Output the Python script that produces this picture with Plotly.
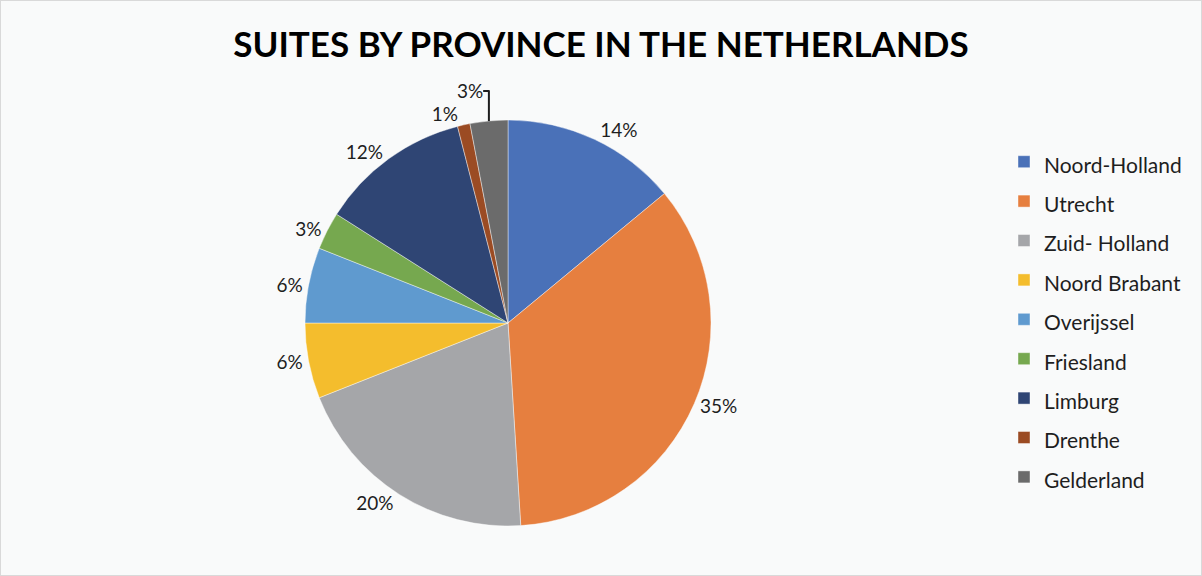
import plotly.graph_objects as go

provinces = ["Noord-Holland", "Utrecht", "Zuid- Holland", "Noord Brabant", "Overijssel",
             "Friesland", "Limburg", "Drenthe", "Gelderland"]
shares = [14, 35, 20, 6, 6, 3, 12, 1, 3]
colors = ["#4A71B8", "#E67F3F", "#A5A6A9", "#F4BD2D", "#5F9ACF", "#76A84F",
          "#2F4574", "#9B4B23", "#6B6B6B"]
title_text = "SUITES BY PROVINCE IN THE NETHERLANDS"

W, H = 1202, 576
cx, cy, r = 508, 323, 203

legend_labels = ['<span style="font-size:21px">%s</span>' % p for p in provinces]

fig = go.Figure(go.Pie(
    labels=legend_labels,
    values=shares,
    text=["%d%%" % v for v in shares],
    textinfo="text",
    textposition="outside",
    sort=False,
    direction="clockwise",
    rotation=0,
    marker=dict(colors=colors, line=dict(color="rgba(255,255,255,0.7)", width=0.6)),
    outsidetextfont=dict(family="Lato", size=19, color="#1E1E1E"),
    domain=dict(x=[(cx - r) / W, (cx + r) / W], y=[1 - (cy + r) / H, 1 - (cy - r) / H]),
    hoverinfo="skip",
))

fig.update_layout(
    width=W, height=H,
    margin=dict(l=0, r=0, t=0, b=0),
    paper_bgcolor="#F9FAFA",
    plot_bgcolor="#F9FAFA",
    title=dict(text="<b>" + title_text + "</b>", x=0.5, xanchor="center",
               y=1 - 45 / H, yanchor="middle", yref="container",
               font=dict(family="Lato", size=35, color="#000000")),
    legend=dict(x=1004 / W, xanchor="left", y=1 - 137 / H, yanchor="top",
                font=dict(family="Lato", size=28, color="#1E1E1E"),
                bgcolor="rgba(0,0,0,0)"),
    showlegend=True,
    shapes=[dict(type="rect", xref="paper", yref="paper", x0=0, x1=1, y0=0, y1=1,
                 line=dict(color="#D9D9D9", width=2), fillcolor="rgba(0,0,0,0)")],
)

fig.write_html("out.html")
